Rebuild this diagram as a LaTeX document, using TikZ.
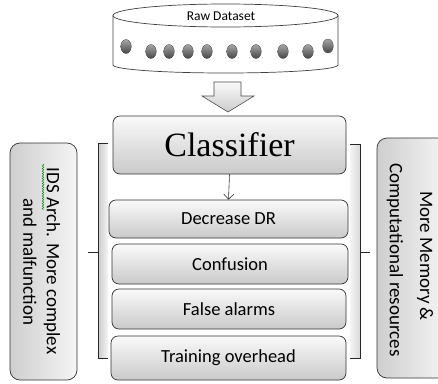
\documentclass[tikz,border=0pt]{standalone}
\usepackage{fontspec}
\setmainfont{Carlito}
\newfontfamily\timesfont{Liberation Serif}
\usetikzlibrary{arrows.meta,decorations.pathmorphing}
\begin{document}
\begin{tikzpicture}[x=1pt,y=-1pt,
  box/.style={draw=black!80, line width=0.7pt, rounded corners=7pt,
    top color=gray!4, bottom color=gray!42, inner sep=0pt,
    font=\fontsize{18.5}{22}\selectfont, text=black},
  sidebox/.style={draw=black!80, line width=0.7pt, rounded corners=10pt,
    left color=gray!38, right color=gray!8},
  sidetext/.style={rotate=-90, inner sep=0pt, font=\fontsize{19}{22}\selectfont, text=black},
  dot/.style={draw=gray!50!black, line width=0.3pt, top color=gray!70, bottom color=gray!55!black},
  bracketline/.style={draw=black!85, line width=0.7pt},
]
\clip (0,0) rectangle (438,383);
\fill[white] (0,0) rectangle (438,383);

% dataset cylinder
\draw[draw=black!75, line width=0.7pt, fill=white]
  (113,15.5) -- (113,65) arc[start angle=180, end angle=360, x radius=112.5, y radius=-8]
  -- (338,15.5);
\draw[draw=black!75, line width=0.7pt, fill=white] (225.5,15.5) ellipse[x radius=112.5, y radius=11.5];
\node[inner sep=0pt, font=\fontsize{13.5}{16}\selectfont, text=black] (raw) at (221,16) {Raw Dataset};
\foreach \x/\y [count=\i] in {126/46.5,151/51.5,169/51.5,188/51.5,207/51.5,232/51.5,256/51.5,283/51.5,308/51.5,328/46}
  \draw[dot] (\x,\y) ellipse[x radius=5.3, y radius=7];
\coordinate (dsbot) at (228,73);

% block arrow
\coordinate (at) at (228,82);
\draw[draw=black!70, line width=0.6pt, top color=gray!4, bottom color=gray!40]
  (214,82) -- (241,82) -- (241,96) -- (254,96) -- (228,112) -- (202,96) -- (214,96) -- cycle;

% brackets
\fill[left color=gray!40, right color=gray!8] (98,143) rectangle (108,358);
\draw[bracketline] (108,143) -- (98,143) -- (98,358) -- (108,358);
\coordinate (lt) at (98,252);
\coordinate (ltend) at (88,252);
\draw[bracketline] (lt) -- (ltend);

\fill[left color=gray!8, right color=gray!30] (350,144) rectangle (360,358);
\draw[bracketline] (350,144) -- (360,144) -- (360,358) -- (350,358);
\coordinate (rt) at (360,252);
\coordinate (rtend) at (370,252);
\draw[bracketline] (rt) -- (rtend);

% classifier and boxes
\node[box, minimum width=233pt, minimum height=58pt, font=\timesfont\fontsize{34}{40}\selectfont] (cls) at (229.5,145) {Classifier};
\node[box, minimum width=239pt, minimum height=38pt] (dr) at (228.5,219) {Decrease DR};
\node[box, minimum width=236pt, minimum height=40pt] (conf) at (230,264) {Confusion};
\node[box, minimum width=234pt, minimum height=40pt] (fa) at (229,309) {False alarms};
\node[box, minimum width=235pt, minimum height=44pt] (tro) at (228.5,358) {Training overhead};
\draw[draw=black!80, line width=0.6pt, -{Straight Barb[length=5pt,width=10pt]}] (cls.south) -- (dr.north);

% side boxes
\node[sidebox, minimum width=67pt, minimum height=237pt] (lbox) at (43.5,261.5) {};
\node[sidetext] (l1) at (52,261) {IDS Arch. More complex};
\node[sidetext] (l2) at (30,262) {and malfunction};
\draw[green!55!black, line width=0.5pt, decorate, decoration={snake, amplitude=0.7pt, segment length=2.5pt}] (43,164) -- (43,210);

\node[sidebox, minimum width=70pt, minimum height=240pt] (rbox) at (412,258) {};
\node[sidetext] (r1) at (425,256) {More Memory \&};
\node[sidetext] (r2) at (395,260) {Computational resources};
\end{tikzpicture}
\end{document}
